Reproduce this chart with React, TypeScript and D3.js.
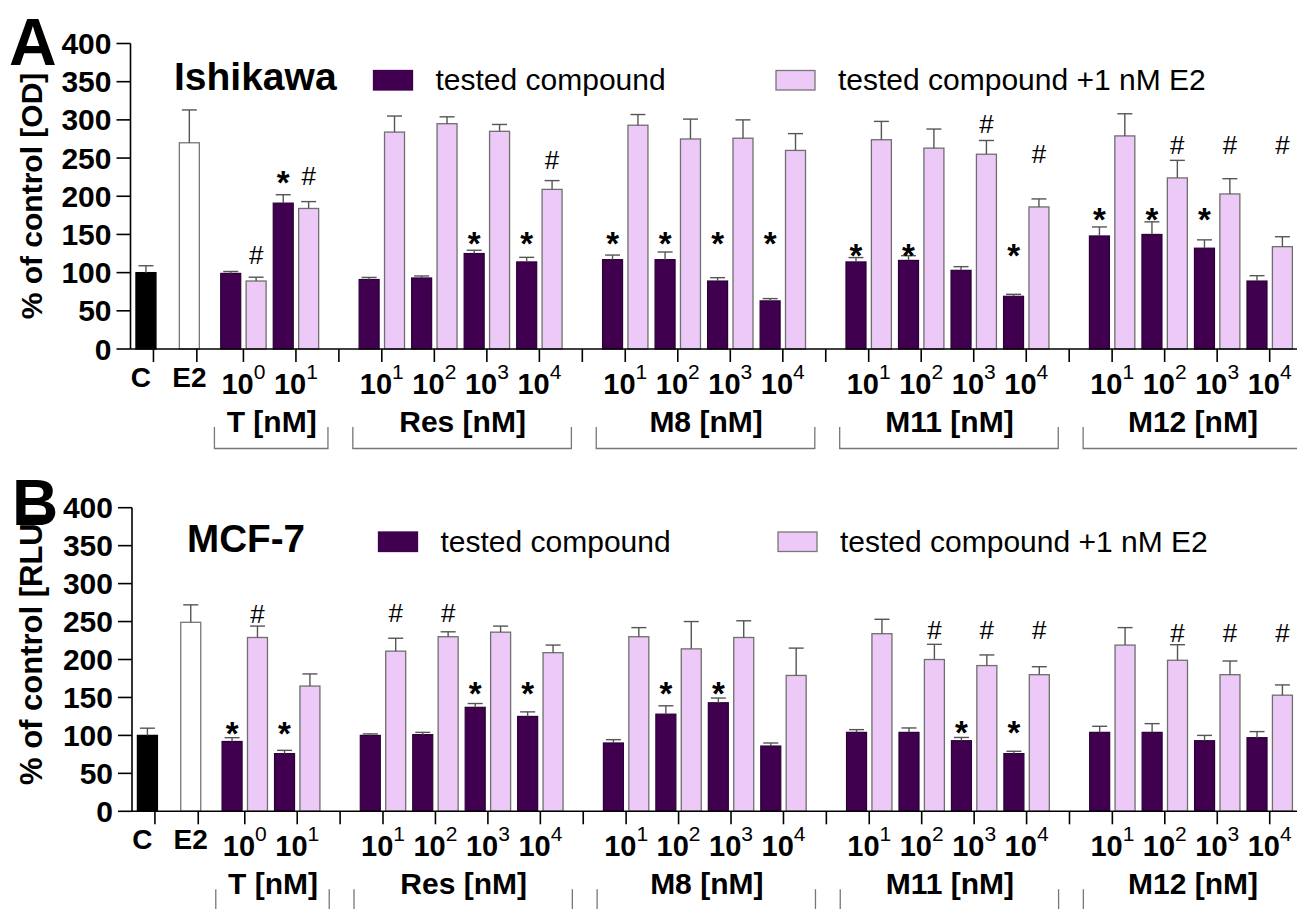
import React from "react";
import * as d3 from "d3";

// Two-panel grouped bar chart (Ishikawa / MCF-7), % of control with SEM whiskers.
const W = 1297;
const H = 909;
const FONT = "'Liberation Sans', Arial, Helvetica, sans-serif";

const DARK = "#40004f";
const LIGHT = "#ecc9f6";

const controls = ["C", "E2"];
const groups = ["T [nM]", "Res [nM]", "M8 [nM]", "M11 [nM]", "M12 [nM]"];
const exponents = [
  [0, 1],
  [1, 2, 3, 4],
  [1, 2, 3, 4],
  [1, 2, 3, 4],
  [1, 2, 3, 4],
];
const yTicks = [0, 50, 100, 150, 200, 250, 300, 350, 400];
const legendLabels = ["tested compound", "tested compound +1 nM E2"];

// Ishikawa [OD]
const ishControl = [100, 270];
const ishControlErr = [9, 43];
const ishAlone = [99, 191, 91, 93, 125, 114, 117, 117, 89, 63, 114, 116, 103, 69, 148, 150, 132, 89];
const ishAloneErr = [2.5, 11, 2.7, 2.6, 4.3, 6, 6, 10, 4.4, 3, 5.7, 6.2, 4.8, 2.6, 11.8, 16.5, 10.9, 7];
const ishWithE2 = [89, 184, 284, 295, 285, 209, 293, 275, 276, 260, 274, 263, 255, 186, 279, 224, 203, 134];
const ishWithE2Err = [5, 9, 21, 9, 9, 11.5, 14, 26, 24, 22, 24, 25, 18, 10.5, 29, 23, 20, 13];
// level (in % units) of the "*" above dark bars and "#" above light bars
const ishStar = [null, 226, null, null, 146, 146, 146, 146, 146, 146, 131, 131, null, 131, 178, 178, 178, null];
const ishHash = [123, 226, null, null, null, 248, null, null, null, null, null, null, 294, 255, null, 267, 267, 267];

// MCF-7 [RLU]
const mcfControl = [100, 249];
const mcfControlErr = [9.5, 23];
const mcfAlone = [92, 76, 100, 101, 137, 125, 90, 128, 143, 86, 104, 104, 93, 76, 104, 104, 93, 97];
const mcfAloneErr = [5, 4.3, 2, 3, 5, 6, 4.4, 11, 6.2, 4, 3.6, 5.8, 4.3, 3.1, 8, 11.5, 7, 8];
const mcfWithE2 = [229, 165, 211, 230, 236, 209, 230, 214, 229, 179, 234, 200, 192, 180, 219, 199, 180, 153];
const mcfWithE2Err = [15, 16, 17, 6.5, 8, 10, 12, 36, 22, 36, 19, 20, 14, 10.5, 23, 20.5, 18, 13.5];
const mcfStar = [111, 111, null, null, 164, 164, null, 164, 164, null, null, null, 113, 113, null, null, null, null];
const mcfHash = [260, null, 261, 261, null, null, null, null, null, null, null, 239, 239, 239, null, 235, 235, 235];

// slot layout in "slot units": 1 per dose, extra gap between compounds
const GROUP_GAP = 0.635;
const slots: { group: number; exp: number; pos: number }[] = [];
{
  let u = 0;
  groups.forEach((_, gi) => {
    if (gi > 0) u += GROUP_GAP;
    exponents[gi].forEach((e) => {
      slots.push({ group: gi, exp: e, pos: u });
      u += 1;
    });
  });
}
const controlPos = [-1.713, -0.887];

type PanelProps = {
  letter: string;
  title: string;
  titleWidth?: number;
  yLabel: string;
  top: number;
  bottom: number;
  axisX: number;
  yLabelCenter: number;
  yLabelSize: number;
  legendY: number;
  ctrl: number[];
  ctrlErr: number[];
  alone: number[];
  aloneErr: number[];
  withE2: number[];
  withE2Err: number[];
  star: (number | null)[];
  hash: (number | null)[];
  letterSize: number;
  letterX: number;
  letterY: number;
  titleX: number;
  legendX: number[];
};

function Panel(p: PanelProps) {
  const x = d3.scaleLinear().domain([-2.15, 20.06]).range([p.axisX, W]);
  const y = d3.scaleLinear().domain([0, 400]).range([p.bottom, p.top]);
  const barW = 20;
  const half = 2.7;
  const cap = 7.5;

  const errBar = (cx: number, v: number, e: number, key: string) => (
    <g key={key} stroke="#555" strokeWidth={1.4}>
      <line x1={cx} x2={cx} y1={y(v)} y2={y(v + e)} />
      <line x1={cx - cap} x2={cx + cap} y1={y(v + e)} y2={y(v + e)} />
    </g>
  );

  const groupRange = groups.map((_, gi) => {
    const s = slots.filter((d) => d.group === gi);
    return [s[0].pos, s[s.length - 1].pos];
  });
  const separators = groupRange.slice(0, -1).map((r, i) => (r[1] + groupRange[i + 1][0]) / 2);

  return (
    <g fontFamily={FONT}>
      {/* panel letter, title, legend */}
      <text x={p.letterX} y={p.letterY} fontSize={p.letterSize} fontWeight="bold">
        {p.letter}
      </text>
      <text
        x={p.titleX}
        y={p.legendY + 19.5}
        fontSize={39}
        fontWeight="bold"
        textLength={p.titleWidth}
        lengthAdjust={p.titleWidth ? "spacingAndGlyphs" : undefined}
      >
        {p.title}
      </text>
      {legendLabels.map((l, i) => (
        <g key={l}>
          <rect
            x={p.legendX[i]}
            y={p.legendY}
            width={39}
            height={19.5}
            fill={i === 0 ? DARK : LIGHT}
            stroke={i === 0 ? DARK : "#777"}
            strokeWidth={1.3}
          />
          <text x={p.legendX[i] + 62} y={p.legendY + 19.5} fontSize={30}>
            {l}
          </text>
        </g>
      ))}

      {/* y label */}
      <text
        transform={`translate(41.5,${p.yLabelCenter}) rotate(-90)`}
        textAnchor="middle"
        fontSize={p.yLabelSize}
        fontWeight="bold"
      >
        {p.yLabel}
      </text>

      {/* control bars */}
      {controls.map((c, i) => {
        const cx = x(controlPos[i]) - 7.5;
        return (
          <g key={c}>
            <rect
              x={cx - barW / 2}
              y={y(p.ctrl[i])}
              width={barW}
              height={y(0) - y(p.ctrl[i])}
              fill={i === 0 ? "#000" : "#fff"}
              stroke={i === 0 ? "#000" : "#777"}
              strokeWidth={1.3}
            />
            {errBar(cx, p.ctrl[i], p.ctrlErr[i], "ce" + i)}
            <text
              x={cx + (i === 0 ? -5 : 0)}
              y={p.bottom + 37.5}
              textAnchor="middle"
              fontSize={28}
              fontWeight="bold"
            >
              {c}
            </text>
          </g>
        );
      })}

      {/* paired bars */}
      {slots.map((s, i) => {
        const c = x(s.pos);
        const dx = c - half - barW / 2;
        const lx = c + half + barW / 2;
        return (
          <g key={"s" + i}>
            <rect
              x={dx - barW / 2}
              y={y(p.alone[i])}
              width={barW}
              height={y(0) - y(p.alone[i])}
              fill={DARK}
              stroke="#2a0036"
              strokeWidth={1.2}
            />
            <rect
              x={lx - barW / 2}
              y={y(p.withE2[i])}
              width={barW}
              height={y(0) - y(p.withE2[i])}
              fill={LIGHT}
              stroke="#6f6f6f"
              strokeWidth={1.3}
            />
            {errBar(dx, p.alone[i], p.aloneErr[i], "ae" + i)}
            {errBar(lx, p.withE2[i], p.withE2Err[i], "le" + i)}
            {p.star[i] != null && (
              <text x={dx} y={y(p.star[i] as number) + 18} textAnchor="middle" fontSize={33} fontWeight="bold">
                *
              </text>
            )}
            {p.hash[i] != null && (
              <text x={lx} y={y(p.hash[i] as number) + 9} textAnchor="middle" fontSize={26}>
                #
              </text>
            )}
            <text x={c} y={p.bottom + 45} textAnchor="middle" fontSize={29} fontWeight="bold">
              10
              <tspan fontSize={21} fontWeight="normal" dy={-15}>
                {s.exp}
              </tspan>
            </text>
          </g>
        );
      })}

      {/* group labels and brackets */}
      {groups.map((g, gi) => {
        const [a, b] = groupRange[gi];
        const x0 = x(a) - 29;
        const x1 = x(b) + 32;
        const yt = p.bottom + 78;
        const yb = p.bottom + 99.5;
        return (
          <g key={g}>
            <text
              x={(x(a) + x(b)) / 2 + 2}
              y={p.bottom + 83}
              textAnchor="middle"
              fontSize={30}
              fontWeight="bold"
            >
              {g}
            </text>
            <path
              d={`M${x0},${yt}V${yb}H${x1}V${yt}`}
              fill="none"
              stroke="#777"
              strokeWidth={1.3}
            />
          </g>
        );
      })}

      {/* axes */}
      <g stroke="#000" strokeWidth={1.6}>
        <line x1={p.axisX} x2={p.axisX} y1={y(400)} y2={y(0)} />
        <line x1={p.axisX} x2={W} y1={y(0)} y2={y(0)} />
        {yTicks.map((t) => (
          <line key={t} x1={p.axisX - 14} x2={p.axisX} y1={y(t)} y2={y(t)} />
        ))}
        {controlPos.map((c, i) => (
          <line key={"ct" + i} x1={x(c)} x2={x(c)} y1={y(0)} y2={y(0) + 13} />
        ))}
        {slots.map((s, i) => (
          <line key={"st" + i} x1={x(s.pos)} x2={x(s.pos)} y1={y(0)} y2={y(0) + 13} />
        ))}
        {separators.map((s, i) => (
          <line key={"sp" + i} x1={x(s)} x2={x(s)} y1={y(0)} y2={y(0) + 13} />
        ))}
      </g>
      {yTicks.map((t) => (
        <text
          key={"yl" + t}
          x={p.axisX - 19}
          y={y(t) + 10.5}
          textAnchor="end"
          fontSize={30}
          fontWeight="bold"
        >
          {t}
        </text>
      ))}
    </g>
  );
}

export default function App() {
  return (
    <svg
      width={W}
      height={H}
      style={{ position: "absolute", left: 0, top: 0, background: "#fff" }}
    >
      <rect width={W} height={H} fill="#fff" />
      <Panel
        letter="A"
        letterSize={66}
        letterX={9}
        letterY={65}
        title="Ishikawa"
        titleX={174}
        yLabel="% of control [OD]"
        yLabelCenter={196}
        yLabelSize={30}
        top={43.5}
        bottom={349}
        axisX={130.5}
        legendY={70.5}
        legendX={[373.5, 776]}
        ctrl={ishControl}
        ctrlErr={ishControlErr}
        alone={ishAlone}
        aloneErr={ishAloneErr}
        withE2={ishWithE2}
        withE2Err={ishWithE2Err}
        star={ishStar}
        hash={ishHash}
      />
      <Panel
        letter="B"
        letterSize={64}
        letterX={12}
        letterY={525}
        title="MCF-7"
        titleWidth={118}
        titleX={187}
        yLabel="% of control [RLU]"
        yLabelCenter={649}
        yLabelSize={31}
        top={507.7}
        bottom={811.3}
        axisX={132}
        legendY={532}
        legendX={[378.5, 778]}
        ctrl={mcfControl}
        ctrlErr={mcfControlErr}
        alone={mcfAlone}
        aloneErr={mcfAloneErr}
        withE2={mcfWithE2}
        withE2Err={mcfWithE2Err}
        star={mcfStar}
        hash={mcfHash}
      />
    </svg>
  );
}
